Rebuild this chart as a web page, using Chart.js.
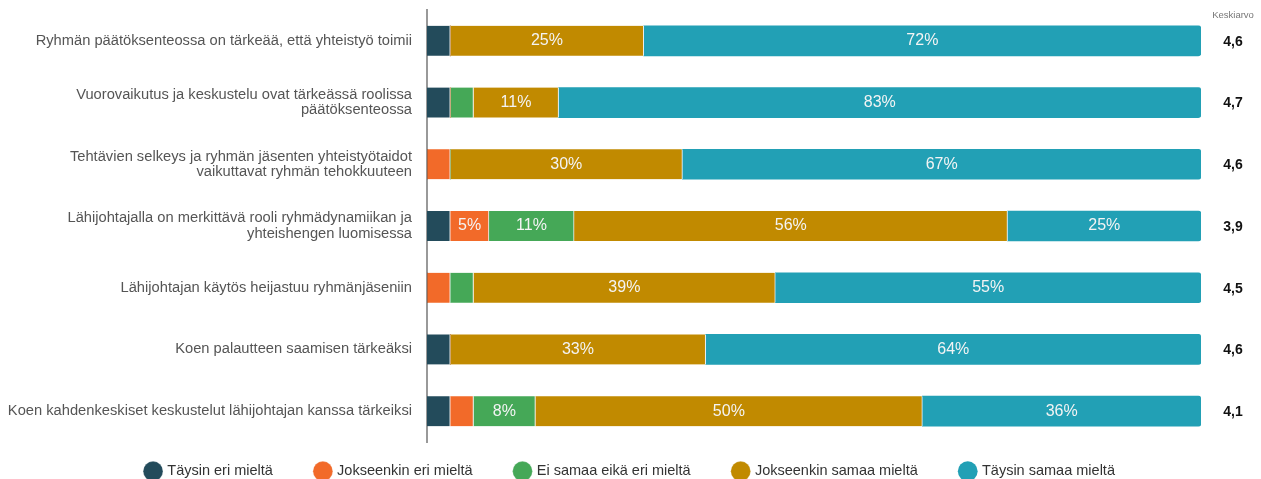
<!DOCTYPE html>
<html>
<head>
<meta charset="utf-8">
<script src="https://cdn.jsdelivr.net/npm/chart.js@4/dist/chart.umd.min.js"></script>
<style>
  html, body { margin: 0; padding: 0; background: #fff; }
  #wrap { width: 1261px; height: 479px; position: relative; }
</style>
</head>
<body>
<div id="wrap"><canvas id="surveyChart"></canvas></div>
<script>
"use strict";

// DATA -----------------------
const categories = [
  "Ryhmän päätöksenteossa on tärkeää, että yhteistyö toimii",
  ["Vuorovaikutus ja keskustelu ovat tärkeässä roolissa", "päätöksenteossa"],
  ["Tehtävien selkeys ja ryhmän jäsenten yhteistyötaidot", "vaikuttavat ryhmän tehokkuuteen"],
  ["Lähijohtajalla on merkittävä rooli ryhmädynamiikan ja", "yhteishengen luomisessa"],
  "Lähijohtajan käytös heijastuu ryhmänjäseniin",
  "Koen palautteen saamisen tärkeäksi",
  "Koen kahdenkeskiset keskustelut lähijohtajan kanssa tärkeiksi"
];

const seriesNames = [
  "Täysin eri mieltä",
  "Jokseenkin eri mieltä",
  "Ei samaa eikä eri mieltä",
  "Jokseenkin samaa mieltä",
  "Täysin samaa mieltä"
];

const stronglyDisagree = [3, 3, 0, 3, 0, 3, 3];
const somewhatDisagree = [0, 0, 3, 5, 3, 0, 3];
const neutral          = [0, 3, 0, 11, 3, 0, 8];
const somewhatAgree    = [25, 11, 30, 56, 39, 33, 50];
const stronglyAgree    = [72, 83, 67, 25, 55, 64, 36];

const averages = ["4,6", "4,7", "4,6", "3,9", "4,5", "4,6", "4,1"];

const colors = ["#234b5b", "#f26a29", "#45a857", "#c18a00", "#22a0b5"];

const FONT = "'Liberation Sans', Arial, sans-serif";

// PLUGINS -----------------------
const labelPlugin = {
  id: "segmentLabels",
  afterLayout(chart) {
    // legend sits right under the plot, centred on the whole page
    const lg = chart.legend;
    if (!lg) return;
    lg.top = chart.chartArea.bottom - 21;
    lg.left += 30;
    lg.right += 30;
  },
  afterDatasetsDraw(chart) {
    const ctx = chart.ctx;
    ctx.save();
    ctx.font = "16px " + FONT;
    ctx.fillStyle = "#f4f4f4";
    ctx.textAlign = "center";
    ctx.textBaseline = "middle";
    chart.data.datasets.forEach((ds, i) => {
      const meta = chart.getDatasetMeta(i);
      meta.data.forEach((bar, j) => {
        const v = ds.data[j];
        if (v < 5) return;
        const p = bar.getProps(["x", "y", "base"], true);
        ctx.fillText(v + "%", (p.x + p.base) / 2, p.y);
      });
    });

    // average column
    const yScale = chart.scales.y;
    ctx.fillStyle = "#111";
    ctx.font = "bold 14px " + FONT;
    averages.forEach((a, j) => {
      ctx.fillText(a, 1233, yScale.getPixelForValue(j) + 1);
    });
    ctx.fillStyle = "#777";
    ctx.font = "9.5px " + FONT;
    ctx.fillText("Keskiarvo", 1233, 15);
    ctx.restore();
  }
};

// CHART -----------------------
const datasetValues = [stronglyDisagree, somewhatDisagree, neutral, somewhatAgree, stronglyAgree];

const datasets = datasetValues.map((vals, i) => ({
  label: seriesNames[i],
  data: vals,
  backgroundColor: colors[i],
  borderColor: "#f2f2f2",
  borderWidth: { left: 0, right: i < 4 ? 1 : 0, top: 0, bottom: 0 },
  borderSkipped: false,
  borderRadius: i === 4 ? { topLeft: 0, bottomLeft: 0, topRight: 3, bottomRight: 3 } : 0,
  barThickness: 30
}));

new Chart(document.getElementById("surveyChart"), {
  type: "bar",
  data: { labels: categories, datasets: datasets },
  options: {
    indexAxis: "y",
    responsive: true,
    maintainAspectRatio: false,
    animation: false,
    layout: { padding: { top: 10, right: 60, left: 0, bottom: 0 } },
    plugins: {
      tooltip: { enabled: false },
      legend: {
        position: "bottom",
        maxHeight: 37,
        labels: {
          usePointStyle: true,
          pointStyle: "circle",
          boxWidth: 14,
          boxHeight: 14,
          padding: 43,
          color: "#333",
          font: { family: FONT, size: 14.5 }
        }
      }
    },
    scales: {
      x: {
        stacked: true,
        min: 0,
        max: 100,
        display: false
      },
      y: {
        stacked: true,
        grid: { display: false, drawTicks: false },
        border: { display: true, color: "#999", width: 2 },
        ticks: {
          color: "#555",
          padding: 15,
          font: { family: FONT, size: 14.7, lineHeight: 1.05 }
        },
        afterFit(scale) {
          scale.width = 427;
          scale.paddingTop = 0;
          scale.paddingBottom = 0;
        }
      }
    }
  },
  plugins: [labelPlugin]
});
</script>
</body>
</html>
